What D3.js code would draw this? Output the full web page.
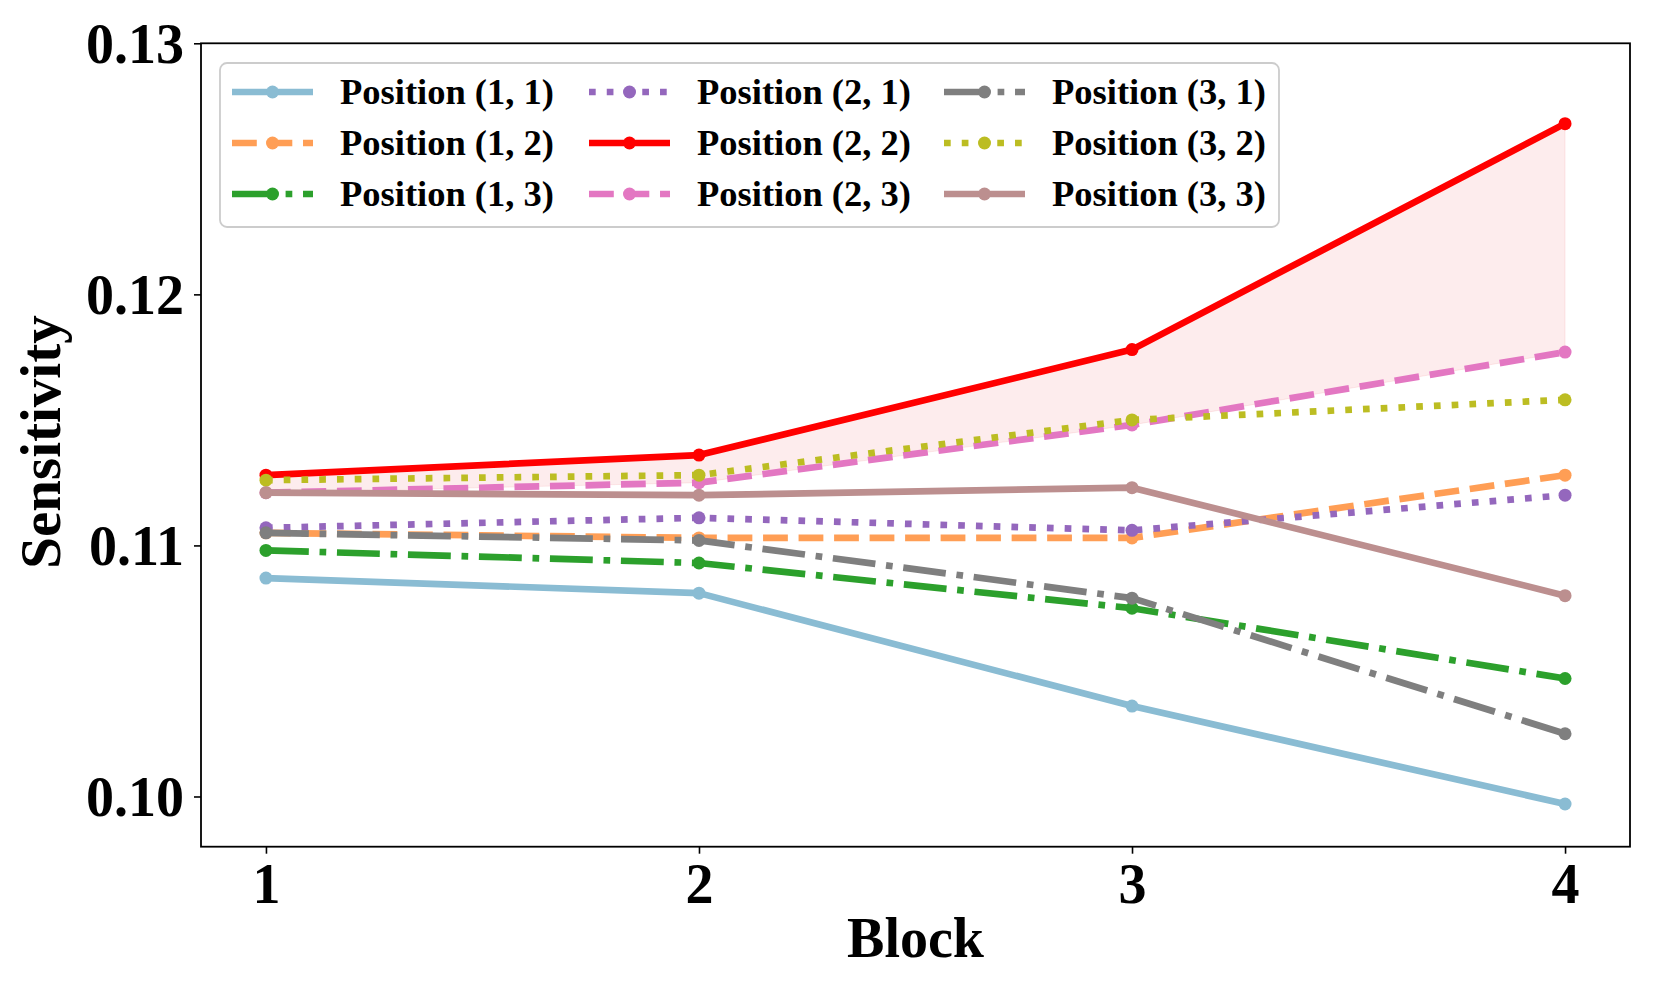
<!DOCTYPE html>
<html>
<head>
<meta charset="utf-8">
<script src="https://cdn.jsdelivr.net/npm/d3@7"></script>
<style>
  html, body { margin: 0; padding: 0; background: #fff; }
  svg text { font-family: "Liberation Serif", "DejaVu Serif", serif; font-weight: bold; }
</style>
</head>
<body>
<svg id="chart" width="1661" height="997"></svg>
<script>
// ---- data ----
const blocks = [1, 2, 3, 4];
const seriesNames = ["Position (1, 1)", "Position (1, 2)", "Position (1, 3)",
                     "Position (2, 1)", "Position (2, 2)", "Position (2, 3)",
                     "Position (3, 1)", "Position (3, 2)", "Position (3, 3)"];
const pos11 = [0.1087, 0.1081, 0.1036, 0.0997];
const pos12 = [0.1105, 0.1103, 0.1103, 0.1128];
const pos13 = [0.1098, 0.1093, 0.1075, 0.1047];
const pos21 = [0.1107, 0.1111, 0.1106, 0.1120];
const pos22 = [0.1128, 0.1136, 0.1178, 0.1268];
const pos23 = [0.1121, 0.1125, 0.1148, 0.1177];
const pos31 = [0.1105, 0.1102, 0.1079, 0.1025];
const pos32 = [0.1126, 0.1128, 0.1150, 0.1158];
const pos33 = [0.1121, 0.1120, 0.1123, 0.1080];
const yTicks = [0.10, 0.11, 0.12, 0.13];

const seriesValues = [pos11, pos12, pos13, pos21, pos22, pos23, pos31, pos32, pos33];
const colors = ["#8abcd3", "#ff9e55", "#2ca02c", "#9467bd", "#ff0000", "#e377c2", "#7f7f7f", "#bcbd22", "#bc8f8f"];
const LW = 6.7;
const dashes = {
  solid: null,
  dashed: [3.7 * LW, 1.6 * LW],
  dashdot: [6.4 * LW, 1.6 * LW, 1 * LW, 1.6 * LW],
  dotted: [1 * LW, 1.65 * LW]
};
const styles = ["solid", "dashed", "dashdot", "dotted", "solid", "dashed", "dashdot", "dotted", "solid"];

// ---- layout ----
const svg = d3.select("#chart");
const L = 201, R = 1630, T = 43.3, B = 846.7;
const x = d3.scaleLinear().domain([0.85, 4.15]).range([L, R]);
const y = d3.scaleLinear().domain([0.098, 0.13]).range([B, T]);

svg.append("clipPath").attr("id", "clip")
  .append("rect").attr("x", L).attr("y", T).attr("width", R - L).attr("height", B - T);

const plot = svg.append("g").attr("clip-path", "url(#clip)");

// fill between (2,2) and (2,3)
const area = d3.area()
  .x((d, i) => x(blocks[i]))
  .y0((d, i) => y(pos23[i]))
  .y1((d, i) => y(pos22[i]));
plot.append("path").datum(pos22).attr("d", area)
  .attr("fill", "#e8484c").attr("fill-opacity", 0.1)
  .attr("stroke", "#e8484c").attr("stroke-opacity", 0.1).attr("stroke-width", 1);

const line = d3.line().x((d, i) => x(blocks[i])).y(d => y(d));

seriesValues.forEach((vals, k) => {
  const g = plot.append("g");
  const p = g.append("path").datum(vals).attr("d", line)
    .attr("fill", "none").attr("stroke", colors[k]).attr("stroke-width", LW)
    .attr("stroke-linejoin", "round");
  if (dashes[styles[k]]) p.attr("stroke-dasharray", dashes[styles[k]].join(","));
  g.selectAll("circle").data(vals).enter().append("circle")
    .attr("cx", (d, i) => x(blocks[i])).attr("cy", d => y(d))
    .attr("r", 6.5).attr("fill", colors[k]);
});

// axes
const xAxis = d3.axisBottom(x).tickValues(blocks).tickFormat(d3.format("d")).tickSize(7).tickPadding(10);
const yAxis = d3.axisLeft(y).tickValues(yTicks).tickFormat(d3.format(".2f")).tickSize(7).tickPadding(10);

const gx = svg.append("g").attr("transform", `translate(0,${B})`).call(xAxis);
const gy = svg.append("g").attr("transform", `translate(${L},0)`).call(yAxis);
[gx, gy].forEach(g => {
  g.select(".domain").remove();
  g.selectAll(".tick line").attr("stroke", "#000").attr("stroke-width", 1.6);
  g.selectAll(".tick text").attr("fill", "#000").style("font-size", "56px")
    .style("font-family", "'Liberation Serif', serif").style("font-weight", "bold");
});
gy.selectAll(".tick text").attr("dy", "0.34em");
gx.selectAll(".tick text").attr("dy", "0.7em");

// frame
svg.append("rect").attr("x", L).attr("y", T).attr("width", R - L).attr("height", B - T)
  .attr("fill", "none").attr("stroke", "#000").attr("stroke-width", 1.8);

// axis labels
svg.append("text").attr("x", (L + R) / 2).attr("y", 957).attr("text-anchor", "middle")
  .style("font-size", "56px").text("Block");
svg.append("text").attr("transform", `translate(60,${(T + B) / 2 - 3}) rotate(-90)`)
  .attr("text-anchor", "middle").style("font-size", "57px").text("Sensitivity");

// legend
const lg = svg.append("g");
lg.append("rect").attr("x", 220).attr("y", 63).attr("width", 1059).attr("height", 164)
  .attr("rx", 7).attr("fill", "#fff").attr("fill-opacity", 0.8)
  .attr("stroke", "#cccccc").attr("stroke-width", 1.8);
const colX = [232, 589, 944];
const rowY = [92, 143, 194];
seriesNames.forEach((name, k) => {
  const col = Math.floor(k / 3), row = k % 3;
  const hx = colX[col], hy = rowY[row];
  const hl = lg.append("line").attr("x1", hx).attr("x2", hx + 81).attr("y1", hy).attr("y2", hy)
    .attr("stroke", colors[k]).attr("stroke-width", LW);
  if (dashes[styles[k]]) hl.attr("stroke-dasharray", dashes[styles[k]].join(","));
  lg.append("circle").attr("cx", hx + 40.5).attr("cy", hy).attr("r", 6.5).attr("fill", colors[k]);
  lg.append("text").attr("x", hx + 108).attr("y", hy).attr("dy", "0.33em")
    .style("font-size", "36.5px").attr("fill", "#000").text(name);
});
</script>
</body>
</html>
